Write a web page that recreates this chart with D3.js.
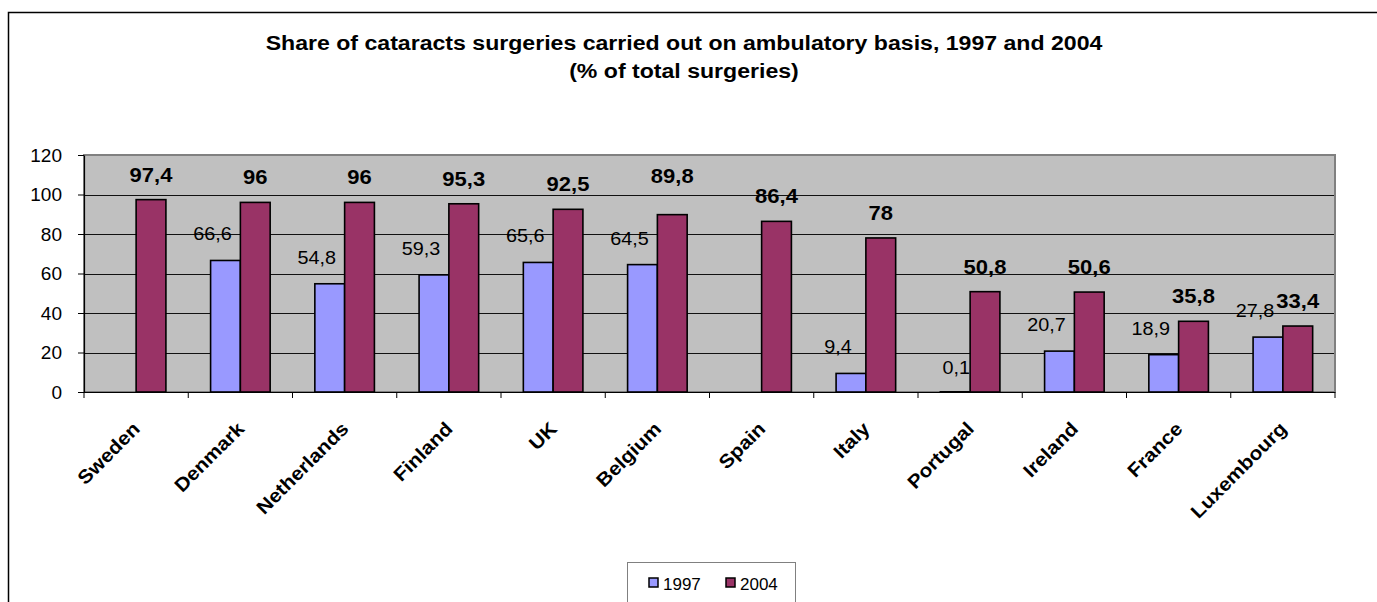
<!DOCTYPE html>
<html>
<head>
<meta charset="utf-8">
<script src="https://cdn.jsdelivr.net/npm/d3@7/dist/d3.min.js"></script>
<style>
  html, body { margin: 0; padding: 0; background: #fff; }
  svg { display: block; font-family: Arial, "Liberation Sans", sans-serif; }
</style>
</head>
<body>
<svg id="chart" width="1377" height="602"></svg>
<script>
// Share of cataract surgeries carried out on an ambulatory basis (% of total)
const countries = ["Sweden", "Denmark", "Netherlands", "Finland", "UK", "Belgium",
                   "Spain", "Italy", "Portugal", "Ireland", "France", "Luxembourg"];
const years = ["1997", "2004"];
const values1997 = [null, 66.6, 54.8, 59.3, 65.6, 64.5, null, 9.4, 0.1, 20.7, 18.9, 27.8];
const values2004 = [97.4, 96, 96, 95.3, 92.5, 89.8, 86.4, 78, 50.8, 50.6, 35.8, 33.4];
const yTicks = [0, 20, 40, 60, 80, 100, 120];
const titleLines = ["Share of cataracts surgeries carried out on ambulatory basis, 1997 and 2004",
                    "(% of total surgeries)"];

const colors = { "1997": "#9999FF", "2004": "#993366" };

// label nudges (px) for crowded labels
const labelNudge = {
  "2004|Belgium": { dx: 0, dy: -14 },
  "1997|Portugal": { dx: 14, dy: 2 }
};

const svg = d3.select("#chart");
const plot = { left: 84, right: 1335, top: 155, bottom: 392 };
const WIDE = 1.1; // horizontal stretch applied to chart text

// outer chart frame (runs off the right and bottom edges)
svg.append("rect")
  .attr("x", 8.5).attr("y", 12.5)
  .attr("width", 1420).attr("height", 640)
  .attr("fill", "#fff").attr("stroke", "#000").attr("stroke-width", 1.5);

// title
svg.append("g").selectAll("text")
  .data(titleLines)
  .join("text")
  .attr("transform", (d, i) => `translate(684,${50 + i * 28}) scale(${WIDE},1)`)
  .attr("text-anchor", "middle")
  .attr("font-size", 21)
  .attr("font-weight", "bold")
  .text(d => d);

const x = d3.scaleBand().domain(countries).range([plot.left, plot.right]).paddingInner(0).paddingOuter(0);
const xSub = d3.scaleBand().domain(years).range([0, x.bandwidth()]).paddingInner(0).paddingOuter(0.75);
const y = d3.scaleLinear().domain([0, 120]).range([plot.bottom, plot.top]);

// plot background
svg.append("rect")
  .attr("x", plot.left).attr("y", plot.top)
  .attr("width", plot.right - plot.left).attr("height", plot.bottom - plot.top)
  .attr("fill", "#C0C0C0");

// gridlines
svg.append("g").selectAll("line")
  .data(yTicks.filter(t => t > 0 && t < 120))
  .join("line")
  .attr("x1", plot.left).attr("x2", plot.right)
  .attr("y1", d => Math.round(y(d)) + 0.5).attr("y2", d => Math.round(y(d)) + 0.5)
  .attr("stroke", "#111").attr("stroke-width", 1.2);

// plot border
svg.append("rect")
  .attr("x", plot.left).attr("y", plot.top)
  .attr("width", plot.right - plot.left).attr("height", plot.bottom - plot.top)
  .attr("fill", "none").attr("stroke", "#808080").attr("stroke-width", 2);

// bars
const rows = countries.map((c, i) => ({ country: c, "1997": values1997[i], "2004": values2004[i] }));
const groups = svg.append("g").selectAll("g")
  .data(rows)
  .join("g")
  .attr("transform", d => `translate(${x(d.country)},0)`);

const marks = d => years.filter(yr => d[yr] != null).map(yr => ({ year: yr, value: d[yr], country: d.country }));

groups.selectAll("rect")
  .data(marks)
  .join("rect")
  .attr("x", d => xSub(d.year))
  .attr("y", d => y(d.value))
  .attr("width", xSub.bandwidth())
  .attr("height", d => y(0) - y(d.value))
  .attr("fill", d => colors[d.year])
  .attr("stroke", "#000")
  .attr("stroke-width", 1.6);

// data labels
const fmt = v => String(v).replace(".", ",");
groups.selectAll("text")
  .data(marks)
  .join("text")
  .attr("transform", d => {
    const n = labelNudge[d.year + "|" + d.country] || { dx: 0, dy: 0 };
    const lx = xSub(d.year) + xSub.bandwidth() / 2 + (d.year === "1997" ? -13 : 0) + n.dx;
    const ly = y(d.value) + (d.year === "1997" ? -20 : -18) + n.dy;
    return `translate(${lx},${ly}) scale(${WIDE},1)`;
  })
  .attr("text-anchor", "middle")
  .attr("font-size", d => d.year === "2004" ? 20 : 18)
  .attr("font-weight", d => d.year === "2004" ? "bold" : "normal")
  .text(d => fmt(d.value));

// y axis
const yAxis = svg.append("g")
  .attr("transform", `translate(${plot.left},0)`)
  .call(d3.axisLeft(y).tickValues(yTicks).tickSize(6).tickPadding(16).tickSizeOuter(0));
yAxis.select(".domain").attr("stroke", "#000").attr("stroke-width", 1.2);
yAxis.selectAll(".tick line").attr("stroke", "#000");
yAxis.selectAll(".tick text")
  .attr("font-size", 19).attr("font-family", "Arial, 'Liberation Sans', sans-serif").attr("fill", "#000");

// x axis: ticks at category boundaries, rotated bold labels
const xAxisG = svg.append("g");
xAxisG.append("line")
  .attr("x1", plot.left).attr("x2", plot.right)
  .attr("y1", plot.bottom + 0.5).attr("y2", plot.bottom + 0.5)
  .attr("stroke", "#000").attr("stroke-width", 1.2);
xAxisG.selectAll("line.tk")
  .data(countries.map(c => x(c)).concat([plot.right]))
  .join("line")
  .attr("class", "tk")
  .attr("x1", d => d).attr("x2", d => d)
  .attr("y1", plot.bottom).attr("y2", plot.bottom + 6)
  .attr("stroke", "#000");
xAxisG.selectAll("text")
  .data(countries)
  .join("text")
  .attr("transform", d => `translate(${x(d) + x.bandwidth() / 2 + 5},${plot.bottom + 38}) rotate(-45) scale(${WIDE},1)`)
  .attr("text-anchor", "end")
  .attr("font-size", 19)
  .attr("font-weight", "bold")
  .text(d => d);

// legend
const legend = svg.append("g");
legend.append("rect")
  .attr("x", 627.5).attr("y", 562.5).attr("width", 168).attr("height", 60)
  .attr("fill", "#fff").attr("stroke", "#808080").attr("stroke-width", 1);
const legItems = legend.selectAll("g")
  .data(years)
  .join("g")
  .attr("transform", (d, i) => `translate(${649 + i * 77},0)`);
legItems.append("rect")
  .attr("x", 0).attr("y", 578).attr("width", 9).attr("height", 9)
  .attr("fill", d => colors[d]).attr("stroke", "#000").attr("stroke-width", 1.5);
legItems.append("text")
  .attr("transform", "translate(14,590)")
  .attr("font-size", 17)
  .text(d => d);
</script>
</body>
</html>
